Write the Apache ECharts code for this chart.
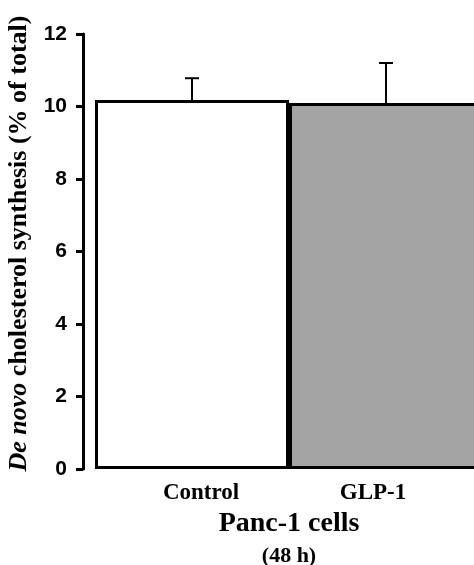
<!DOCTYPE html>
<html>
<head>
<meta charset="utf-8">
<script src="https://cdn.jsdelivr.net/npm/echarts@6/dist/echarts.min.js"></script>
<style>
  html, body { margin: 0; padding: 0; background: #fff; }
  #main { width: 474px; height: 565px; }
</style>
</head>
<body>
<div id="main"></div>
<script>
// values
const categories = ['Control', 'GLP-1'];
const means = [10.18, 10.1];
const errors = [0.6, 1.1];
const barColors = ['#ffffff', '#a4a4a4'];

const serif = '"Liberation Serif", "Times New Roman", serif';

let myChart = echarts.init(document.getElementById('main'));

// error bar data: [category index, mean, mean + sd]
let errData = means.map((m, i) => [i, m, m + errors[i]]);

myChart.setOption({
    animation: false,
    grid: {
        left: 95,
        top: 34,
        width: 388,
        height: 435,
        outerBoundsMode: 'none',
        containLabel: false
    },
    xAxis: {
        type: 'category',
        data: categories,
        axisLine: { show: false },
        axisTick: { show: false },
        axisLabel: {
            margin: 13,
            formatter: function (value) {
                return value === 'Control' ? '{c|' + value + '}' : '{g|' + value + '}';
            },
            rich: {
                c: { fontFamily: serif, fontWeight: 'bold', fontSize: 23, color: '#000', padding: [0, 0, 0, 18] },
                g: { fontFamily: serif, fontWeight: 'bold', fontSize: 23, color: '#000', padding: [0, 26, 0, 0] }
            }
        },
        name: '{p|Panc-1 cells}\n{h|(48 h)}',
        nameLocation: 'middle',
        nameGap: 38,
        nameTextStyle: {
            rich: {
                p: { fontFamily: serif, fontWeight: 'bold', fontSize: 28, color: '#000', lineHeight: 34 },
                h: { fontFamily: serif, fontWeight: 'bold', fontSize: 22, color: '#000', lineHeight: 30 }
            }
        }
    },
    yAxis: {
        type: 'value',
        min: 0,
        max: 12,
        interval: 2,
        offset: 12,
        splitLine: { show: false },
        axisLine: { show: true, lineStyle: { color: '#000', width: 3 } },
        axisTick: { show: true, length: 7, lineStyle: { color: '#000', width: 3 } },
        axisLabel: {
            margin: 16,
            color: '#000',
            fontFamily: '"Liberation Sans", Arial, sans-serif',
            fontWeight: 'bold',
            fontSize: 21
        },
        name: '{i|De novo} cholesterol synthesis (% of total)',
        nameLocation: 'middle',
        nameGap: 45,
        nameTextStyle: {
            fontFamily: serif,
            fontWeight: 'bold',
            fontSize: 26,
            color: '#000',
            padding: [0, 0, 0, 16],
            rich: {
                i: { fontFamily: serif, fontWeight: 'bold', fontStyle: 'italic', fontSize: 26, color: '#000' }
            }
        }
    },
    series: [
        {
            type: 'bar',
            barCategoryGap: 0,
            data: means.map((v, i) => ({
                value: v,
                itemStyle: { color: barColors[i], borderColor: '#000', borderWidth: 3 }
            }))
        },
        {
            type: 'custom',
            z: 5,
            data: errData,
            renderItem: function (params, api) {
                let base = api.coord([api.value(0), api.value(1)]);
                let top = api.coord([api.value(0), api.value(2)]);
                let style = { stroke: '#000', lineWidth: 2 };
                return {
                    type: 'group',
                    children: [
                        { type: 'line', shape: { x1: base[0], y1: base[1], x2: top[0], y2: top[1] }, style: style },
                        { type: 'line', shape: { x1: top[0] - 7, y1: top[1], x2: top[0] + 7, y2: top[1] }, style: style }
                    ]
                };
            }
        }
    ]
});
</script>
</body>
</html>
